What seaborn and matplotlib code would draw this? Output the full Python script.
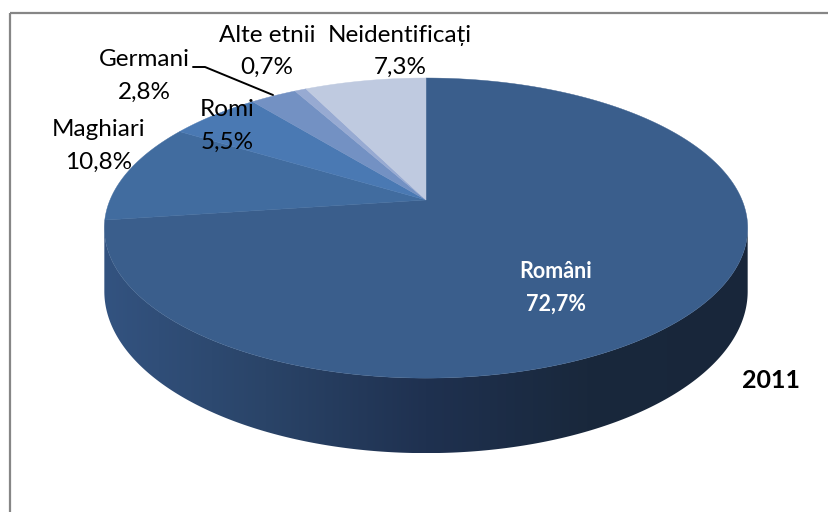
import numpy as np
import matplotlib
matplotlib.use("Agg")
import matplotlib.pyplot as plt
import seaborn as sns
from matplotlib.patches import Rectangle, Polygon

# ── data ────────────────────────────────────────────────────────────────────
groups = ["Români", "Maghiari", "Romi", "Germani", "Alte etnii", "Neidentificați"]
shares = [72.7, 10.8, 5.5, 2.8, 0.7, 7.3]
year = "2011"

top_colors = ["#3A5E8C", "#416C9F", "#4A79B3", "#7391C3", "#97AAD2", "#BFCAE0"]
side_colors = ["#335380", "#2A4468", "#1F3150", "#19283C", "#18263A"]

# label centers (pixels): name line, value line sits 32 px lower
label_pos = {
    "Români": (556, 272),
    "Maghiari": (99, 130),
    "Romi": (227, 110),
    "Germani": (144, 60),
    "Alte etnii": (267, 35),
    "Neidentificați": (400, 35),
}

# ── 3D pie geometry (pixel space) ───────────────────────────────────────────
CX, CY = 426, 200          # apex of the top face
RX, RY = 316, 144.8        # radii before perspective
P = 0.187                  # perspective strength
DEPTH = 61                 # thickness of the pie


def proj(theta, drop=0.0):
    s = 1.0 / (1.0 + P * np.sin(theta))
    return CX + RX * np.cos(theta) * s, CY - RY * np.sin(theta) * s + drop * s


sns.set_theme(style="white")
plt.rcParams["font.family"] = ["Lato", "DejaVu Sans"]

fig = plt.figure(figsize=(8.29, 5.12), dpi=100)
ax = fig.add_axes([0, 0, 1, 1])
ax.set_xlim(0, 829)
ax.set_ylim(512, 0)
ax.axis("off")

# front wall: one polygon filled with a left-to-right gradient
t1 = np.pi + np.arcsin(P)
t2 = 2 * np.pi - np.arcsin(P)
th = np.linspace(t1, t2, 300)
xt, yt = proj(th)
xb, yb = proj(th[::-1], DEPTH)
wall = Polygon(np.c_[np.r_[xt, xb], np.r_[yt, yb]], closed=True,
               fc="none", ec="none")
ax.add_patch(wall)
grad = np.array(sns.blend_palette(side_colors, n_colors=256))[None, :, :3]
img = ax.imshow(grad, extent=(xt.min(), xt.max(), yb.max(), yt.min()),
                aspect="auto", interpolation="bilinear", zorder=1)
img.set_clip_path(wall)

# top face slices, clockwise from 12 o'clock
fracs = np.array(shares) / np.sum(shares)
start = np.pi / 2
for name, f, col in zip(groups, fracs, top_colors):
    end = start - f * 2 * np.pi
    th = np.linspace(start, end, max(4, int(f * 600)))
    xa, ya = proj(th)
    ax.fill(np.r_[CX, xa], np.r_[CY, ya], color=col, lw=0.3, ec=col, zorder=2)
    start = end

# labels
for name, val in zip(groups, shares):
    x, y = label_pos[name]
    txt = f"{val:.1f}%".replace(".", ",")
    if name == "Români":
        kw = dict(color="white", fontweight="bold", fontsize=15.5)
    else:
        kw = dict(color="black", fontsize=17.5)
    ax.text(x, y, name, ha="center", va="center", zorder=3, **kw)
    ax.text(x, y + 32, txt, ha="center", va="center", zorder=3, **kw)

# leader line for Germani
ax.plot([193, 205, 273], [67, 67, 95], color="black", lw=1.4, zorder=3)

ax.text(771, 380, year, ha="center", va="center", fontsize=18,
        fontweight="bold", color="black")

# chart frame (right and bottom edges lie outside the picture)
ax.add_patch(Rectangle((10, 13), 900, 600, fill=False, ec="#868686", lw=1.6))

fig.savefig("out.png", dpi=100)
